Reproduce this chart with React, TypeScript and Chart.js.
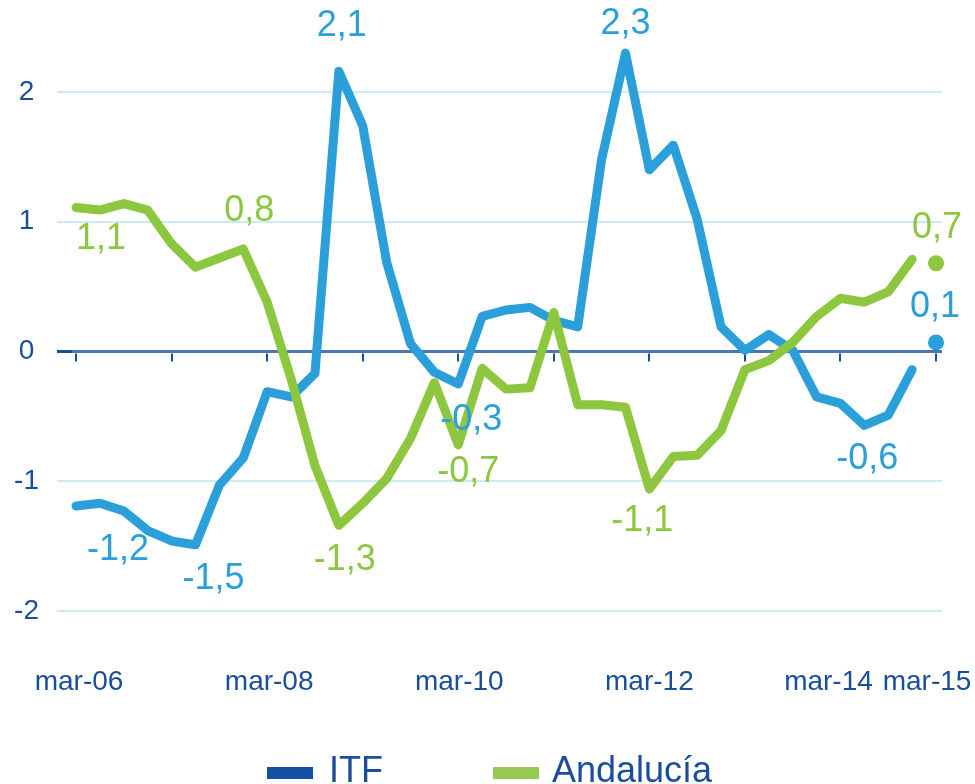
import React, { useEffect, useRef } from 'react';
import { Chart, registerables } from 'chart.js';

Chart.register(...registerables);

// ---------- data ----------
const categories = [
  'mar-06', 'jun-06', 'sep-06', 'dic-06',
  'mar-07', 'jun-07', 'sep-07', 'dic-07',
  'mar-08', 'jun-08', 'sep-08', 'dic-08',
  'mar-09', 'jun-09', 'sep-09', 'dic-09',
  'mar-10', 'jun-10', 'sep-10', 'dic-10',
  'mar-11', 'jun-11', 'sep-11', 'dic-11',
  'mar-12', 'jun-12', 'sep-12', 'dic-12',
  'mar-13', 'jun-13', 'sep-13', 'dic-13',
  'mar-14', 'jun-14', 'sep-14', 'dic-14',
  'mar-15',
];

const itf = [
  -1.19, -1.17, -1.23, -1.38, -1.46, -1.49, -1.03, -0.82, -0.31, -0.35,
  -0.17, 2.16, 1.74, 0.69, 0.06, -0.16, -0.25, 0.27, 0.32, 0.34,
  0.24, 0.19, 1.48, 2.30, 1.40, 1.59, 1.02, 0.19, 0.01, 0.13,
  0.01, -0.35, -0.40, -0.57, -0.49, -0.14, 0.07,
];

const andalucia = [
  1.11, 1.09, 1.14, 1.09, 0.83, 0.65, 0.72, 0.79, 0.38, -0.21,
  -0.88, -1.34, -1.17, -0.98, -0.67, -0.24, -0.72, -0.13, -0.29, -0.28,
  0.30, -0.41, -0.41, -0.43, -1.06, -0.81, -0.80, -0.61, -0.14, -0.07,
  0.07, 0.27, 0.41, 0.38, 0.46, 0.71, 0.68,
];

const seriesNames = ['ITF', 'Andalucía'];
const xTickLabels = ['mar-06', 'mar-08', 'mar-10', 'mar-12', 'mar-14', 'mar-15'];
const yTickValues = [-2, -1, 0, 1, 2];

const itfLabelIndex = [1, 5, 11, 16, 23, 33, 36];
const itfLabelText = ['-1,2', '-1,5', '2,1', '-0,3', '2,3', '-0,6', '0,1'];
const andLabelIndex = [1, 7, 11, 16, 24, 36];
const andLabelText = ['1,1', '0,8', '-1,3', '-0,7', '-1,1', '0,7'];

// ---------- styles ----------
const BLUE = '#2a9fd9';
const GREEN = '#8dc63f';
const LEGEND_BLUE = '#1351a0';
const LEGEND_GREEN = '#97c955';
const DARK = '#1a4e9b';
const GRID = '#cdeaf8';
const ZERO = '#4a76b4';
const FONT = "'Liberation Sans', Arial, sans-serif";

// label offsets (dx, dy) relative to the anchoring point
const itfLabelOffsets = [[18, 47], [18, 34], [3, -45], [13, 36], [0, -29], [3, 34], [-1, -35]];
const andLabelOffsets = [[1, 29], [6, -38], [6, 35], [10, 27], [-7, 32], [1, -35]];
// x-label horizontal nudges (style)
const xLabelNudge = [3, 2, 1, 0, -12, -9];

const LAST = categories.length - 1;

const overlayPlugin = {
  id: 'overlay',
  beforeDatasetsDraw(chart: any) {
    const { ctx, scales } = chart;
    const x = scales.x;
    const y = scales.y;
    const y0 = y.getPixelForValue(0);
    ctx.save();
    ctx.strokeStyle = DARK;
    ctx.lineWidth = 2;
    for (let i = 0; i < categories.length; i += 4) {
      const px = Math.round(x.getPixelForValue(i));
      ctx.beginPath();
      ctx.moveTo(px, y0 + 2);
      ctx.lineTo(px, y0 + 10);
      ctx.stroke();
    }
    ctx.restore();
  },
  afterDatasetsDraw(chart: any) {
    const { ctx, scales } = chart;
    const x = scales.x;
    const y = scales.y;
    ctx.save();
    ctx.textAlign = 'center';
    ctx.textBaseline = 'middle';
    ctx.font = `36px ${FONT}`;
    const drawSet = (vals: number[], idx: number[], txt: string[], off: number[][], color: string) => {
      ctx.fillStyle = color;
      idx.forEach((i, k) => {
        const px = x.getPixelForValue(i) + off[k][0];
        const py = y.getPixelForValue(vals[i]) + off[k][1];
        ctx.fillText(txt[k], px, py);
      });
    };
    drawSet(itf, itfLabelIndex, itfLabelText, itfLabelOffsets, BLUE);
    drawSet(andalucia, andLabelIndex, andLabelText, andLabelOffsets, GREEN);

    // x-axis labels
    ctx.font = `28px ${FONT}`;
    ctx.fillStyle = DARK;
    xTickLabels.forEach((lab, k) => {
      const i = categories.indexOf(lab);
      const px = x.getPixelForValue(i) + xLabelNudge[k];
      ctx.fillText(lab, px, 682);
    });
    ctx.restore();
  },
};

function makeDataset(label: string, vals: number[], color: string) {
  return {
    label,
    data: vals.map((v, i) => ({ x: i, y: v })),
    borderColor: color,
    backgroundColor: color,
    borderWidth: 9,
    borderJoinStyle: 'round',
    borderCapStyle: 'round',
    tension: 0,
    clip: false,
    pointRadius: (c: any) => (c.dataIndex === LAST ? 8 : 0),
    pointBorderWidth: 0,
    pointBackgroundColor: color,
    segment: {
      borderColor: (c: any) => (c.p1DataIndex === LAST ? 'rgba(0,0,0,0)' : color),
    },
  };
}

export default function App() {
  const ref = useRef<HTMLCanvasElement | null>(null);

  useEffect(() => {
    if (!ref.current) return;
    const chart = new Chart(ref.current, {
      type: 'line',
      data: {
        datasets: [
          makeDataset(seriesNames[1], andalucia, GREEN) as any,
          makeDataset(seriesNames[0], itf, BLUE) as any,
        ],
      },
      options: {
        animation: false,
        responsive: false,
        events: [],
        layout: { padding: { left: 0, right: 33, top: 92, bottom: 173 } },
        plugins: {
          legend: { display: false },
          tooltip: { enabled: false },
        },
        scales: {
          x: {
            type: 'linear',
            min: -0.17,
            max: 36.25,
            display: false,
          },
          y: {
            type: 'linear',
            min: yTickValues[0],
            max: yTickValues[yTickValues.length - 1],
            afterFit: (s: any) => {
              s.width = 72;
            },
            border: { display: false },
            grid: {
              color: (c: any) => (c.tick && c.tick.value === 0 ? ZERO : GRID),
              tickColor: (c: any) => (c.tick && c.tick.value === 0 ? DARK : GRID),
              lineWidth: (c: any) => (c.tick && c.tick.value === 0 ? 3 : 2),
              tickLength: 15,
              drawTicks: true,
            },
            ticks: {
              stepSize: 1,
              padding: 18,
              crossAlign: 'center',
              color: DARK,
              font: { size: 28, family: FONT },
            },
          },
        },
      } as any,
      plugins: [overlayPlugin],
    });
    return () => chart.destroy();
  }, []);

  const legendText: React.CSSProperties = {
    position: 'absolute',
    top: 752,
    fontFamily: FONT,
    fontSize: 36,
    lineHeight: '36px',
    color: DARK,
    whiteSpace: 'nowrap',
  };
  const box: React.CSSProperties = { position: 'absolute', top: 767, width: 46, height: 12 };

  return (
    <div
      style={{
        position: 'fixed',
        left: 0,
        top: 0,
        width: 975,
        height: 784,
        overflow: 'hidden',
        background: '#ffffff',
      }}
    >
      <canvas ref={ref} width={975} height={784} style={{ display: 'block' }} />
      <div style={{ ...box, left: 267, background: LEGEND_BLUE }} />
      <div style={{ ...legendText, left: 329 }}>{seriesNames[0]}</div>
      <div style={{ ...box, left: 493, background: LEGEND_GREEN }} />
      <div style={{ ...legendText, left: 552 }}>{seriesNames[1]}</div>
    </div>
  );
}
